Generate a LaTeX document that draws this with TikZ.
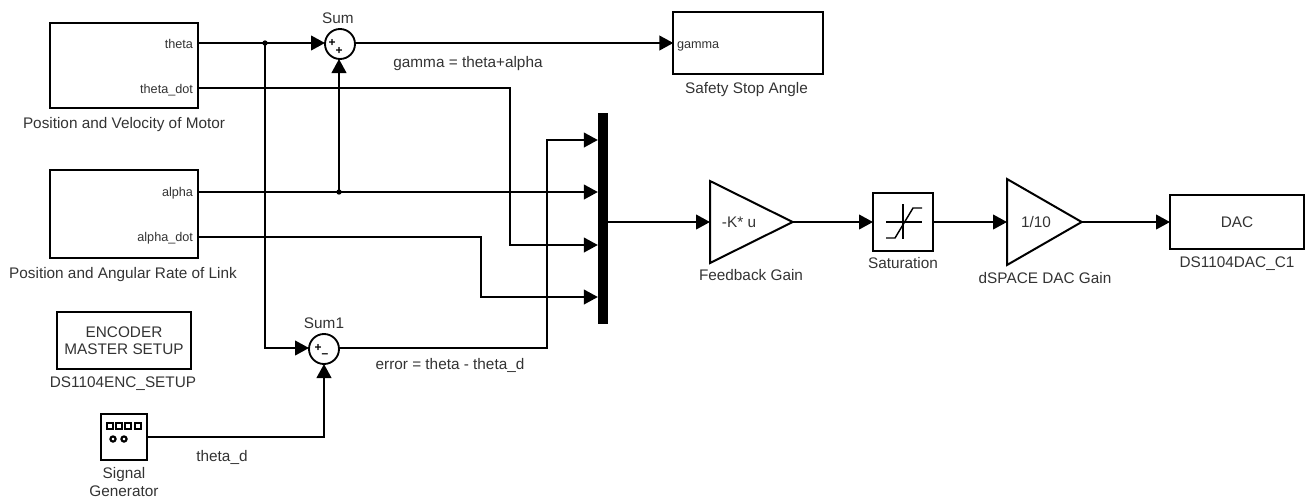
\documentclass[tikz,border=0pt]{standalone}
\usepackage{fontspec}
\setmainfont{Liberation Sans}
\usetikzlibrary{arrows.meta,shapes.geometric}
\tikzset{
  x=0.75pt,y=-0.75pt,
  every node/.style={font=\fontsize{11.5pt}{13pt}\selectfont,text=black!80,inner sep=0pt,outer sep=0pt},
  blockbox/.style={draw=black,line width=1.5pt,fill=white,align=center},
  sumcircle/.style={circle,draw=black,line width=1.4pt,fill=white,minimum size=22.5pt},
  gainblock/.style={isosceles triangle,isosceles triangle stretches,draw=black,line width=1.5pt,fill=white,anchor=lower side,shape border rotate=0},
  wire/.style={line width=1.5pt,draw=black},
  arrowwire/.style={wire,-{Triangle[length=10.5pt,width=11pt]}},
  dot/.style={circle,fill=black,minimum size=4pt},
  tag/.style={anchor=base,align=center},
  portl/.style={anchor=base east,font=\fontsize{9.5pt}{11pt}\selectfont},
  sign/.style={font=\fontsize{9pt}{9pt}\bfseries\selectfont,text=black},
}
\begin{document}
\begin{tikzpicture}
\useasboundingbox (0,0) rectangle (1305,497);
% blocks
\node[blockbox,minimum width=111pt,minimum height=64pt] (motor) at (124,65.5) {};
\node[blockbox,minimum width=111pt,minimum height=66pt] (link) at (124,213.5) {};
\node[blockbox,minimum width=112pt,minimum height=46pt] (safety) at (748,43) {};
\node[blockbox,minimum width=100pt,minimum height=43pt] (enc) at (124,340.5) {ENCODER\\MASTER SETUP};
\node[blockbox,minimum width=34pt,minimum height=34pt] (gen) at (124,437) {};
\node[blockbox,minimum width=100.5pt,minimum height=40.5pt] (dac) at (1237,222) {DAC};
\node[blockbox,minimum width=45pt,minimum height=43pt] (sat) at (903,222) {};
\node[draw=black,fill=black,minimum width=7pt,minimum height=157.5pt] (mux) at (602.5,218.5) {};
\node[sumcircle] (sum) at (340,44) {};
\node[sumcircle] (sum1) at (324,349) {};
\node[gainblock,minimum width=61.5pt,minimum height=62pt] (fb) at (710,222) {};
\node[gainblock,minimum width=64.5pt,minimum height=56pt] (dsp) at (1007,222) {};
\node (kgain) at (739,222) {-K* u};
\node (tenth) at (1036,222) {1/10};
% port labels
\node[portl] (lt) at (193,48) {theta};
\node[portl] (ltd) at (193,93) {theta\_dot};
\node[portl] (la) at (193,196.5) {alpha};
\node[portl] (lad) at (193,241.5) {alpha\_dot};
\node[portl,anchor=base west] (lg) at (677,48) {gamma};
% captions
\node[tag] (c1) at (124,128) {Position and Velocity of Motor};
\node[tag] (c2) at (123,278) {Position and Angular Rate of Link};
\node[tag] (c3) at (746.5,93) {Safety Stop Angle};
\node[tag] (c4) at (123,387) {DS1104ENC\_SETUP};
\node[align=center] (c5) at (124,482) {Signal\\Generator};
\node[tag] (c6) at (338,23) {Sum};
\node[tag] (c7) at (324,328) {Sum1};
\node[tag] (c8) at (468,67) {gamma = theta+alpha};
\node[tag] (c9) at (450,369) {error = theta - theta\_d};
\node[tag] (c10) at (222,461) {theta\_d};
\node[tag] (c11) at (751,280) {Feedback Gain};
\node[tag] (c12) at (903,268) {Saturation};
\node[tag] (c13) at (1045,283) {dSPACE DAC Gain};
\node[tag] (c14) at (1237,267) {DS1104DAC\_C1};
% signs
\node[sign] (s1) at (332,43) {+};
\node[sign] (s2) at (339,51) {+};
\node[sign] (s3) at (318,348) {+};
\node[sign] (s4) at (325,356) {–};
% junctions
\coordinate (j1) at (265,43);
\coordinate (j2) at (339,192);
\node[dot] (d1) at (j1) {};
\node[dot] (d2) at (j2) {};
% connectors
\draw[arrowwire] (motor.east|-0,43) -- (sum.west|-0,43);
\draw[arrowwire] (j1) |- (sum1.west|-0,348);
\draw[arrowwire] (sum.east|-0,43) -- (safety.west|-0,43);
\draw[arrowwire] (link.east|-0,192) -- (mux.west|-0,192);
\draw[arrowwire] (j2) -- (sum.south-|j2);
\draw[arrowwire] (motor.east|-0,88) -| (510,245) -- (mux.west|-0,245);
\draw[arrowwire] (link.east|-0,237) -| (481,297) -- (mux.west|-0,297);
\draw[arrowwire] (sum1.east|-0,348) -| (547,140) -- (mux.west|-0,140);
\draw[arrowwire] (gen.east) -| (sum1.south);
\draw[arrowwire] (mux.east|-0,222) -- (fb.lower side);
\draw[arrowwire] (fb.apex) -- (sat.west);
\draw[arrowwire] (sat.east) -- (dsp.lower side);
\draw[arrowwire] (dsp.apex) -- (dac.west|-0,222);
% saturation icon
\draw[line width=1.2pt] (886,222) -- (922,222) (903,204) -- (903,239);
\draw[line width=1.1pt] (886,238) -- (895,238) -- (913,208) -- (922,208);
% signal generator icon
\foreach \xx in {107,116,125,135}{\draw[line width=1.4pt] (\xx,423) rectangle ++(6,6);}
\foreach \xx in {113,124}{\draw[line width=1.6pt] (\xx,439) circle (2.6);}
\end{tikzpicture}
\end{document}
